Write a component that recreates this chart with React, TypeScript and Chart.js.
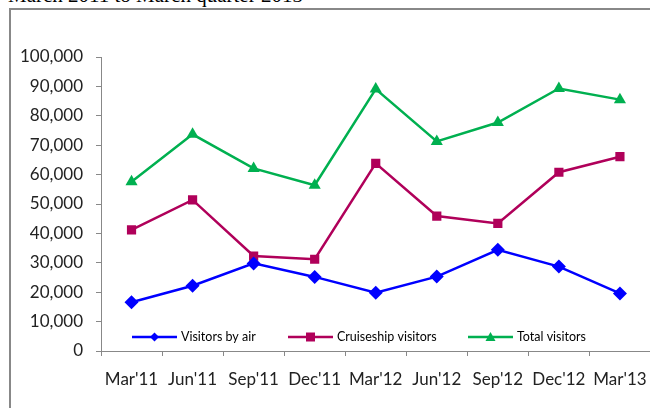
import React, { useEffect, useRef } from "react";
import { Chart, registerables } from "chart.js";

Chart.register(...registerables);

const categories = ["Mar'11", "Jun'11", "Sep'11", "Dec'11", "Mar'12", "Jun'12", "Sep'12", "Dec'12", "Mar'13"];
const visitorsByAir = [16600, 22200, 29800, 25200, 19800, 25300, 34400, 28700, 19600];
const cruiseshipVisitors = [41200, 51400, 32300, 31200, 63800, 45900, 43400, 60800, 66100];
const totalVisitors = [57600, 73700, 62100, 56400, 89100, 71300, 77700, 89300, 85500];
const seriesNames = ["Visitors by air", "Cruiseship visitors", "Total visitors"];
const seriesColors = ["#0000FF", "#B0005A", "#00B050"];
const titleText = "March 2011 to March quarter 2013";

const FONT = "Lato, 'Open Sans', sans-serif";

const insideLegend = {
  id: "insideLegend",
  afterDatasetsDraw(chart: any) {
    const { ctx, chartArea } = chart;
    const y = chartArea.bottom - 14;
    const items = [
      { x: chartArea.left + 31, style: "rectRot" },
      { x: chartArea.left + 187, style: "rect" },
      { x: chartArea.left + 367, style: "triangle" },
    ];
    ctx.save();
    items.forEach((it, i) => {
      const c = seriesColors[i];
      ctx.strokeStyle = c;
      ctx.fillStyle = c;
      ctx.lineWidth = 2.5;
      ctx.beginPath();
      ctx.moveTo(it.x, y);
      ctx.lineTo(it.x + 45, y);
      ctx.stroke();
      const cx = it.x + 22.5;
      ctx.beginPath();
      if (it.style === "rectRot") {
        ctx.moveTo(cx, y - 4.5);
        ctx.lineTo(cx + 4.5, y);
        ctx.lineTo(cx, y + 4.5);
        ctx.lineTo(cx - 4.5, y);
      } else if (it.style === "rect") {
        ctx.rect(cx - 4.5, y - 4.5, 9, 9);
      } else {
        ctx.moveTo(cx, y - 5);
        ctx.lineTo(cx + 5, y + 4);
        ctx.lineTo(cx - 5, y + 4);
      }
      ctx.closePath();
      ctx.fill();
      ctx.fillStyle = "#000";
      ctx.font = `12.5px ${FONT}`;
      ctx.textBaseline = "middle";
      ctx.textAlign = "left";
      ctx.fillText(seriesNames[i], it.x + 49, y);
    });
    ctx.restore();
  },
};

export default function App() {
  const ref = useRef<HTMLCanvasElement | null>(null);

  useEffect(() => {
    if (!ref.current) return;
    const mk = (data: number[], i: number, style: string, r: number) => ({
      label: seriesNames[i],
      data,
      borderColor: seriesColors[i],
      backgroundColor: seriesColors[i],
      borderWidth: 2.5,
      tension: 0,
      pointStyle: style,
      pointRadius: r,
      pointBorderWidth: 0,
      pointBackgroundColor: seriesColors[i],
    });
    const chart = new Chart(ref.current, {
      type: "line",
      data: {
        labels: categories,
        datasets: [
          mk(visitorsByAir, 0, "rectRot", 7),
          mk(cruiseshipVisitors, 1, "rect", 6.5),
          mk(totalVisitors, 2, "triangle", 7),
        ],
      },
      options: {
        animation: false,
        responsive: false,
        layout: { padding: { top: 57, right: 7, left: 0, bottom: 0 } },
        plugins: { legend: { display: false }, tooltip: { enabled: false } },
        scales: {
          x: {
            offset: true,
            grid: { offset: true, drawOnChartArea: false, drawTicks: true, tickLength: 5, color: "#888" },
            border: { display: true, color: "#888", width: 1 },
            ticks: { color: "#222", font: { family: FONT, size: 17 }, padding: 13, maxRotation: 0, autoSkip: false },
            afterFit: (s: any) => { s.height = 57; },
          },
          y: {
            min: 0,
            max: 100000,
            grid: { drawOnChartArea: false, drawTicks: true, tickLength: 5, color: "#888" },
            border: { display: true, color: "#888", width: 1 },
            ticks: {
              stepSize: 10000,
              color: "#222",
              font: { family: FONT, size: 17 },
              padding: 13,
              callback: (v: any) => Number(v).toLocaleString("en-US"),
            },
            afterFit: (s: any) => { s.width = 101; },
          },
        },
      },
      plugins: [insideLegend],
    });
    return () => chart.destroy();
  }, []);

  return (
    <div style={{ position: "absolute", left: 0, top: 0, width: 650, height: 408, overflow: "hidden", background: "#fff" }}>
      <div
        style={{
          position: "absolute",
          left: 8,
          top: -17,
          fontFamily: "'Liberation Serif', serif",
          fontSize: 21,
          whiteSpace: "nowrap",
          color: "#000",
        }}
      >
        {titleText}
      </div>
      <div
        style={{
          position: "absolute",
          left: 9,
          top: 8,
          width: 700,
          height: 500,
          borderTop: "2px solid #888",
          borderLeft: "2px solid #888",
        }}
      />
      <canvas ref={ref} width={660} height={408} style={{ position: "absolute", left: 0, top: 0 }} />
    </div>
  );
}
